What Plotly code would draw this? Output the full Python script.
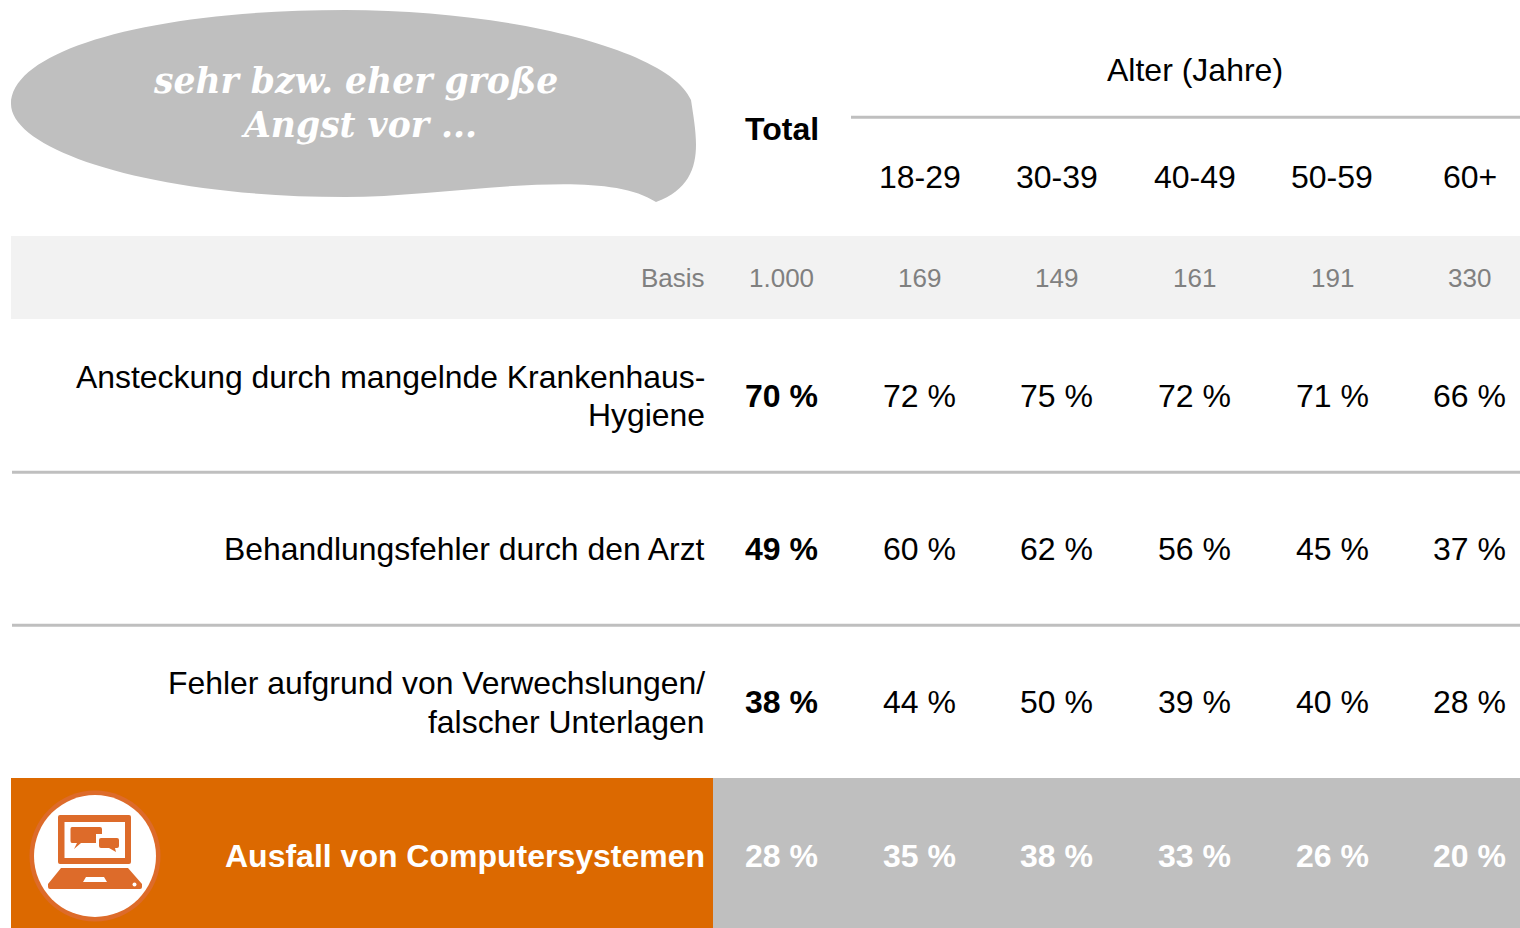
import plotly.graph_objects as go

# ---- data ----
age_groups = ["18-29", "30-39", "40-49", "50-59", "60+"]
col_headers = ["Total"] + age_groups
basis = ["1.000", "169", "149", "161", "191", "330"]
row_labels = [
    ["Ansteckung durch mangelnde Krankenhaus-", "Hygiene"],
    ["Behandlungsfehler durch den Arzt"],
    ["Fehler aufgrund von Verwechslungen/", "falscher Unterlagen"],
    ["Ausfall von Computersystemen"],
]
values_infection = [70, 72, 75, 72, 71, 66]
values_doctor = [49, 60, 62, 56, 45, 37]
values_mixup = [38, 44, 50, 39, 40, 28]
values_computer = [28, 35, 38, 33, 26, 20]
rows = [values_infection, values_doctor, values_mixup, values_computer]
title_lines = ["sehr bzw. eher große", "Angst vor ..."]
group_title = "Alter (Jahre)"

# ---- layout constants ----
COL_X = [781.5, 919.5, 1056.9, 1194.5, 1332, 1469.5]
ROW_Y = [396, 549, 702, 856]
LABEL_LINE_Y = [[377, 415], [549], [683, 722], [856]]
FONT = "Liberation Sans, Arial, sans-serif"
ORANGE, ICON, GREY, LIGHT, LINE = "#DC6900", "#DD6B2A", "#BFBFBF", "#F2F2F2", "#BFBFBF"

fig = go.Figure()
shapes = []
ann = []


def rect(x0, y0, x1, y1, color):
    shapes.append(dict(type="rect", x0=x0, y0=y0, x1=x1, y1=y1, fillcolor=color,
                       line_width=0, xref="x", yref="y", layer="below"))


def hline(x0, x1, y, width=3):
    shapes.append(dict(type="line", x0=x0, x1=x1, y0=y, y1=y, xref="x", yref="y",
                       line=dict(color=LINE, width=width), layer="below"))


def path(d, color):
    shapes.append(dict(type="path", path=d, fillcolor=color, line_width=0,
                       xref="x", yref="y", layer="below"))


def circle(cx, cy, r, color):
    shapes.append(dict(type="circle", x0=cx - r, x1=cx + r, y0=cy - r, y1=cy + r,
                       fillcolor=color, line_width=0, xref="x", yref="y", layer="below"))


def text(x, y, s, size=32, color="#000000", bold=False, anchor="center", family=FONT, italic=False):
    t = f"<b>{s}</b>" if bold else s
    if italic:
        t = f"<i>{t}</i>"
    ann.append(dict(x=x, y=y, text=t, xref="x", yref="y", showarrow=False, xanchor=anchor,
                    yanchor="middle", font=dict(family=family, size=size, color=color),
                    borderpad=0, borderwidth=0))


# bands
rect(11, 236, 1520, 319, LIGHT)
rect(11, 778, 713, 928, ORANGE)
rect(713, 778, 1520, 928, GREY)
hline(851, 1520, 117.3)
hline(12, 1520, 472.3)
hline(12, 1520, 625.3)

# speech bubble
path("M 11,104 C 11,50 150,10 345,10 C 510,10 670,50 691,100 "
     "C 697,140 707,183 656,202 C 600,165 450,197 345,197 C 150,197 11,150 11,104 Z", GREY)
text(355, 81, title_lines[0], size=34.6, color="#FFFFFF", bold=True, italic=True,
     family="DejaVu Serif, serif")
text(359, 125, title_lines[1], size=34.6, color="#FFFFFF", bold=True, italic=True,
     family="DejaVu Serif, serif")

# laptop icon
circle(95, 856, 65.5, ICON)
circle(95, 856, 61, "#FFFFFF")
path("M 60,815 L 129,815 Q 131,815 131,817 L 131,862 Q 131,864 129,864 L 60,864 Q 58,864 58,862 "
     "L 58,817 Q 58,815 60,815 Z", ICON)
rect(64.5, 822, 125, 858, "#FFFFFF")
path("M 72,827 L 100,827 Q 102,827 102,829 L 102,841 Q 102,843 100,843 L 81,843 L 74,849 L 77,843 "
     "L 72,843 Q 70.5,843 70.5,841 L 70.5,829 Q 70.5,827 72,827 Z", ICON)
rect(96, 834, 106, 850, "#FFFFFF")
path("M 101,838 L 117,838 Q 119,838 119,840 L 119,846 Q 119,848 117,848 L 115,848 L 116,852 "
     "L 109,848 L 101,848 Q 99,848 99,846 L 99,840 Q 99,838 101,838 Z", ICON)
path("M 61,868 L 128,868 L 142,884 L 142,887 Q 142,889 140,889 L 50,889 Q 48,889 48,887 L 48,884 Z", ICON)
path("M 86,877 L 104,877 L 107,882 L 83,882 Z", "#FFFFFF")
circle(134.5, 884.5, 2, "#FFFFFF")

# headers
text(1194.5, 70, group_title)
text(COL_X[0], 129, col_headers[0], bold=True)
for x, h in zip(COL_X[1:], col_headers[1:]):
    text(x, 177, h)

# basis row
text(705, 278, "Basis", size=26, color="#808080", anchor="right")
for x, b in zip(COL_X, basis):
    text(x, 278, b, size=26, color="#808080")

# row labels
for i, (lines, ys) in enumerate(zip(row_labels, LABEL_LINE_Y)):
    last = i == len(row_labels) - 1
    for line, y in zip(lines, ys):
        text(705, y, line, size=32 if last else 31.9, anchor="right", bold=last,
             color="#FFFFFF" if last else "#000000")

# values
for i, (vals, y) in enumerate(zip(rows, ROW_Y)):
    last = i == len(rows) - 1
    for j, (x, v) in enumerate(zip(COL_X, vals)):
        text(x, y, f"{v} %", bold=last or j == 0, color="#FFFFFF" if last else "#000000")

fig.add_trace(go.Scatter(x=[0, 1520], y=[0, 928], mode="markers", marker=dict(opacity=0),
                         hoverinfo="skip", showlegend=False))
fig.update_layout(
    width=1520, height=928, margin=dict(l=0, r=0, t=0, b=0), showlegend=False,
    paper_bgcolor="#FFFFFF", plot_bgcolor="#FFFFFF", shapes=shapes, annotations=ann,
    xaxis=dict(range=[0, 1520], visible=False, fixedrange=True),
    yaxis=dict(range=[928, 0], visible=False, fixedrange=True),
)
fig.write_html("out.html", config={"displayModeBar": False},
               post_script="document.body.style.margin='0';document.documentElement.style.overflow='hidden';")
